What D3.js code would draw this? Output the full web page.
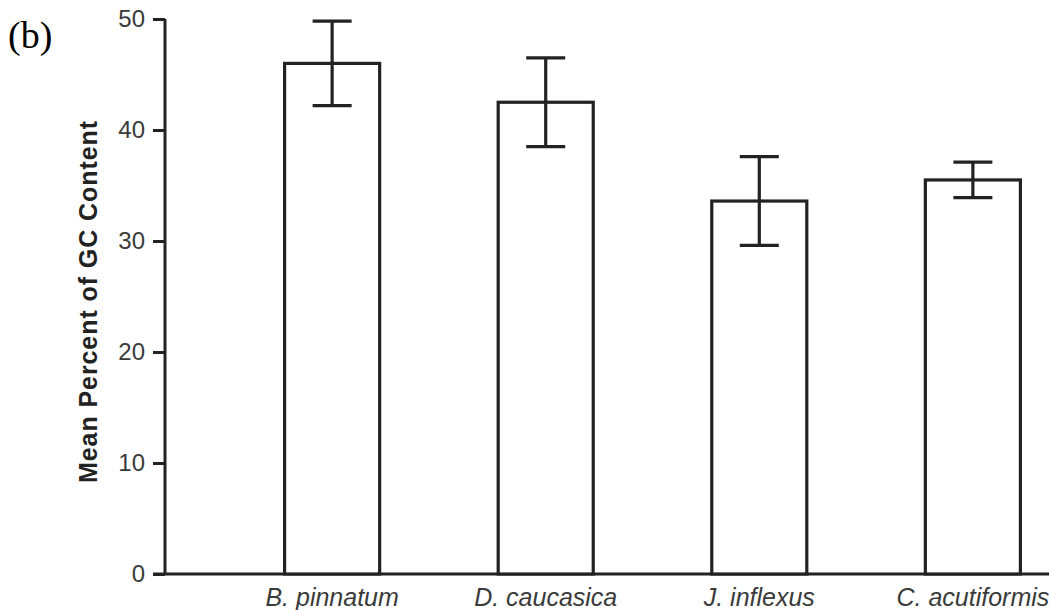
<!DOCTYPE html>
<html>
<head>
  <script src="https://d3js.org/d3.v7.min.js"></script>
  <style>
    body { margin: 0; background: #fff; }
  </style>
</head>
<body>
  <div id="chart"></div>
  <script>
    // data
    var species = ["B. pinnatum", "D. caucasica", "J. inflexus", "C. acutiformis"];
    var meanGC = [46.0, 42.5, 33.6, 35.5];
    var errGC = [3.8, 4.0, 4.0, 1.6];
    var yTicks = [0, 10, 20, 30, 40, 50];

    var width = 1049, height = 610;
    var ink = "#222";
    var sans = "'Liberation Sans', Arial, sans-serif";

    var svg = d3.select("#chart").append("svg")
      .attr("width", width)
      .attr("height", height);

    var y = d3.scaleLinear().domain([0, 50]).range([574, 19]);

    var x = d3.scaleBand()
      .domain(species)
      .range([165, 1140])
      .paddingInner(0.555)
      .paddingOuter(0.56);

    // y axis
    var yAxis = d3.axisLeft(y).tickValues(yTicks).tickSize(12).tickPadding(8);
    var yg = svg.append("g")
      .attr("transform", "translate(165,0)")
      .call(yAxis);
    yg.select(".domain").attr("d", "M0," + y(50) + "V" + y(0))
      .attr("stroke", ink).attr("stroke-width", 3);
    yg.selectAll(".tick line").attr("stroke", ink).attr("stroke-width", 3);
    yg.selectAll(".tick text")
      .attr("font-size", 24)
      .attr("fill", "#3a3a3a")
      .attr("font-family", sans);

    // x axis
    var xAxis = d3.axisBottom(x).tickSize(0).tickPadding(14);
    var xg = svg.append("g")
      .attr("transform", "translate(0," + y(0) + ")")
      .call(xAxis);
    xg.select(".domain").attr("d", "M153,0H" + width)
      .attr("stroke", ink).attr("stroke-width", 3);
    xg.selectAll(".tick text")
      .attr("font-size", 25)
      .attr("font-style", "italic")
      .attr("fill", "#3a3a3a")
      .attr("font-family", sans);

    // bars
    svg.append("g").selectAll("rect")
      .data(species)
      .enter().append("rect")
      .attr("x", function (d) { return x(d); })
      .attr("y", function (d, i) { return y(meanGC[i]); })
      .attr("width", x.bandwidth())
      .attr("height", function (d, i) { return y(0) - y(meanGC[i]); })
      .attr("fill", "#fff")
      .attr("stroke", ink)
      .attr("stroke-width", 3.2);

    // error bars
    var capW = 39;
    var eb = svg.append("g").selectAll("g")
      .data(species)
      .enter().append("g")
      .attr("stroke", ink)
      .attr("stroke-width", 3.2);
    eb.append("line")
      .attr("x1", function (d) { return x(d) + x.bandwidth() / 2; })
      .attr("x2", function (d) { return x(d) + x.bandwidth() / 2; })
      .attr("y1", function (d, i) { return y(meanGC[i] + errGC[i]); })
      .attr("y2", function (d, i) { return y(meanGC[i] - errGC[i]); });
    eb.append("line")
      .attr("x1", function (d) { return x(d) + x.bandwidth() / 2 - capW / 2; })
      .attr("x2", function (d) { return x(d) + x.bandwidth() / 2 + capW / 2; })
      .attr("y1", function (d, i) { return y(meanGC[i] + errGC[i]); })
      .attr("y2", function (d, i) { return y(meanGC[i] + errGC[i]); });
    eb.append("line")
      .attr("x1", function (d) { return x(d) + x.bandwidth() / 2 - capW / 2; })
      .attr("x2", function (d) { return x(d) + x.bandwidth() / 2 + capW / 2; })
      .attr("y1", function (d, i) { return y(meanGC[i] - errGC[i]); })
      .attr("y2", function (d, i) { return y(meanGC[i] - errGC[i]); });

    // y label
    svg.append("text")
      .attr("transform", "translate(97,302) rotate(-90)")
      .attr("text-anchor", "middle")
      .attr("font-family", sans)
      .attr("font-size", 25)
      .attr("font-weight", "bold")
      .attr("fill", "#222")
      .attr("textLength", 362)
      .attr("lengthAdjust", "spacing")
      .text("Mean Percent of GC Content");

    // panel label
    svg.append("text")
      .attr("x", 8)
      .attr("y", 48)
      .attr("font-family", "'Liberation Serif', 'Times New Roman', serif")
      .attr("font-size", 38)
      .attr("fill", "#000")
      .text("(b)");
  </script>
</body>
</html>
